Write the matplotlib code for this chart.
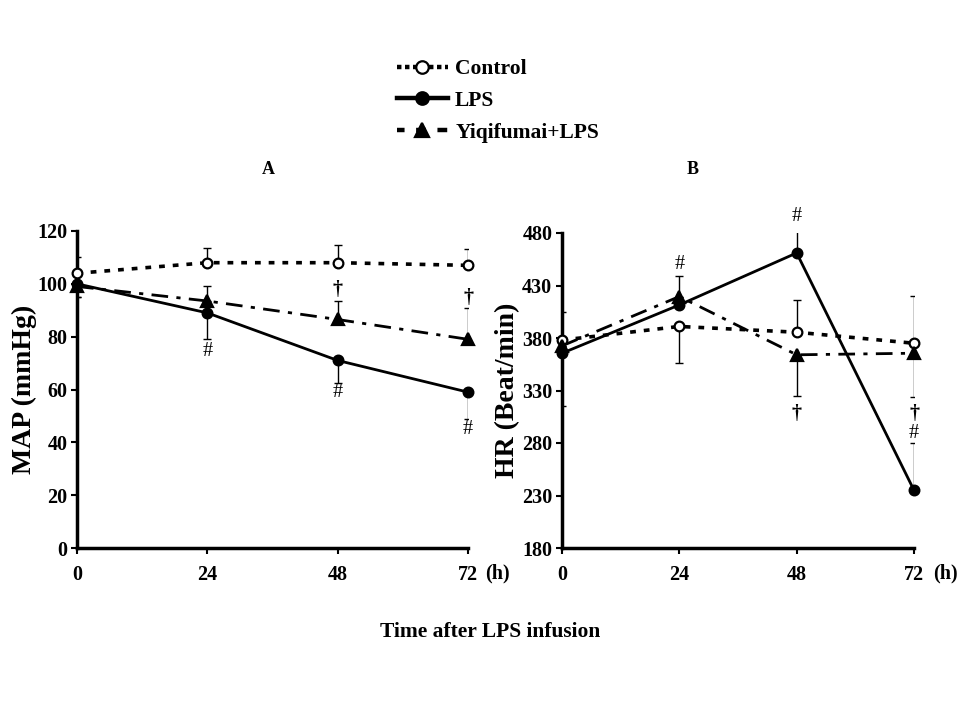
import matplotlib
matplotlib.use("Agg")
import matplotlib.pyplot as plt
from matplotlib.lines import Line2D
import numpy as np

plt.rcParams['font.family'] = ['Liberation Serif', 'DejaVu Serif']
plt.rcParams['font.weight'] = 'bold'

hours = [0, 24, 48, 72]
series_names = ["Control", "LPS", "Yiqifumai+LPS"]

# Panel A: MAP (mmHg)
map_control = [104, 108, 108, 107]
map_control_up = [6, 5.5, 6.8, 6]
map_control_dn = [0, 0, 0, 0]
map_lps = [100, 89, 71, 59]
map_lps_up = [0, 0, 0, 0]
map_lps_dn = [5, 10, 8.5, 10]
map_yiqi = [99, 93.5, 86.5, 79]
map_yiqi_up = [0, 5.5, 7, 12]
map_yiqi_dn = [4, 0, 0, 0]

# Panel B: HR (Beat/min)
hr_control = [378, 391, 385.5, 375]
hr_control_up = [27, 0, 31, 45]
hr_control_dn = [0, 35, 0, 0]
hr_lps = [365.5, 411.5, 461, 235]
hr_lps_up = [0, 28, 24, 45]
hr_lps_dn = [50, 0, 0, 0]
hr_yiqi = [372.5, 419.5, 364, 365.5]
hr_yiqi_up = [0, 0, 0, 0]
hr_yiqi_dn = [0, 0, 39, 42]

# significance marks (x, y, symbol)
marks_a = [(24, 74.5, "#"), (48, 58.8, "#"), (72, 44.7, "#"),
           (48, 97.5, "\u2020"), (72, 94.5, "\u2020")]
marks_b = [(24, 450, "#"), (48, 496, "#"), (72, 289, "#"),
           (48, 308, "\u2020"), (72, 308, "\u2020")]

styles = {
    "Control": dict(ls=(0, (1.6, 2.2)), marker="o", mfc="white", mec="black", ms=7, lw=2.6),
    "LPS": dict(ls="-", marker="o", mfc="black", mec="black", ms=7, lw=2.0),
    "Yiqifumai+LPS": dict(ls=(0, (6, 3, 1.5, 3)), marker="^", mfc="black", mec="black", ms=8, lw=2.0),
}
legend_ls = {
    "Control": (0, (1.0, 0.8)),
    "LPS": "-",
    "Yiqifumai+LPS": (0.5, (2.2, 2.6)),
}

fig = plt.figure(figsize=(9.6, 7.2), dpi=100)
axA = fig.add_axes([77/960, 1-548/720, (468-77)/960, (548-231)/720])
axB = fig.add_axes([562/960, 1-548/720, (914-562)/960, (548-233)/720])


def draw(ax, data, marks, ylim, yticks, ylabel, labelx, hx):
    for name, (vals, up, dn) in zip(series_names, data):
        st = styles[name]
        ax.errorbar(hours, vals, yerr=[dn, up], fmt="none", ecolor="black",
                    elinewidth=1.0, capsize=3, capthick=1.0, zorder=2)
        ax.plot(hours, vals, color="black", linestyle=st["ls"], lw=st["lw"],
                marker=st["marker"], mfc=st["mfc"], mec=st["mec"], ms=st["ms"],
                mew=1.6, zorder=3, clip_on=False)
    for x, y, s in marks:
        ax.text(x, y, s, ha="center", va="center", fontsize=14.5,
                fontweight="normal" if s == "#" else "bold")
    ax.set_xlim(0, 72)
    ax.set_ylim(*ylim)
    ax.set_xticks(hours)
    ax.set_yticks(yticks)
    ax.spines["top"].set_visible(False)
    ax.spines["right"].set_visible(False)
    ax.spines["left"].set_linewidth(2.5)
    ax.spines["bottom"].set_linewidth(2.5)
    ax.tick_params(axis="both", direction="out", length=4, width=1.5,
                   labelsize=14.5, pad=3)
    for lab in ax.get_xticklabels() + ax.get_yticklabels():
        lab.set_fontweight("bold")
    ax.tick_params(axis="x", pad=8)
    ax.set_ylabel(ylabel, fontsize=20, fontweight="bold")
    ax.yaxis.set_label_coords(labelx, 0.5)
    fig.text(hx/960, 1-573/720, "(h)", ha="center", va="center",
             fontsize=14.5, fontweight="bold")


draw(axA,
     [(map_control, map_control_up, map_control_dn),
      (map_lps, map_lps_up, map_lps_dn),
      (map_yiqi, map_yiqi_up, map_yiqi_dn)],
     marks_a, (0, 120), [0, 20, 40, 60, 80, 100, 120], "MAP (mmHg)", -0.102, 497)
draw(axB,
     [(hr_control, hr_control_up, hr_control_dn),
      (hr_lps, hr_lps_up, hr_lps_dn),
      (hr_yiqi, hr_yiqi_up, hr_yiqi_dn)],
     marks_b, (180, 480), [180, 230, 280, 330, 380, 430, 480], "HR (Beat/min)", -0.12, 945)

fig.text(268/960, 1-170/720, "A", ha="center", va="center", fontsize=13, fontweight="bold")
fig.text(693/960, 1-170/720, "B", ha="center", va="center", fontsize=13, fontweight="bold")

handles = []
for name in series_names:
    st = styles[name]
    handles.append(Line2D([0], [0], color="black", linestyle=legend_ls[name], lw=3.2,
                          marker=st["marker"], mfc=st["mfc"], mec=st["mec"],
                          ms=st["ms"] + 2, mew=1.6))
fig.legend(handles, series_names, loc="upper left", bbox_to_anchor=(397/960, 1-59/720),
           frameon=False, prop=dict(family="Liberation Serif", weight="bold", size=15.5),
           handlelength=2.35, handletextpad=0.35, labelspacing=0.55, borderaxespad=0,
           borderpad=0)

fig.text(490/960, 1-632/720, "Time after LPS infusion", ha="center", va="center",
         fontsize=15.5, fontweight="bold")

fig.savefig("out.png", dpi=100)
